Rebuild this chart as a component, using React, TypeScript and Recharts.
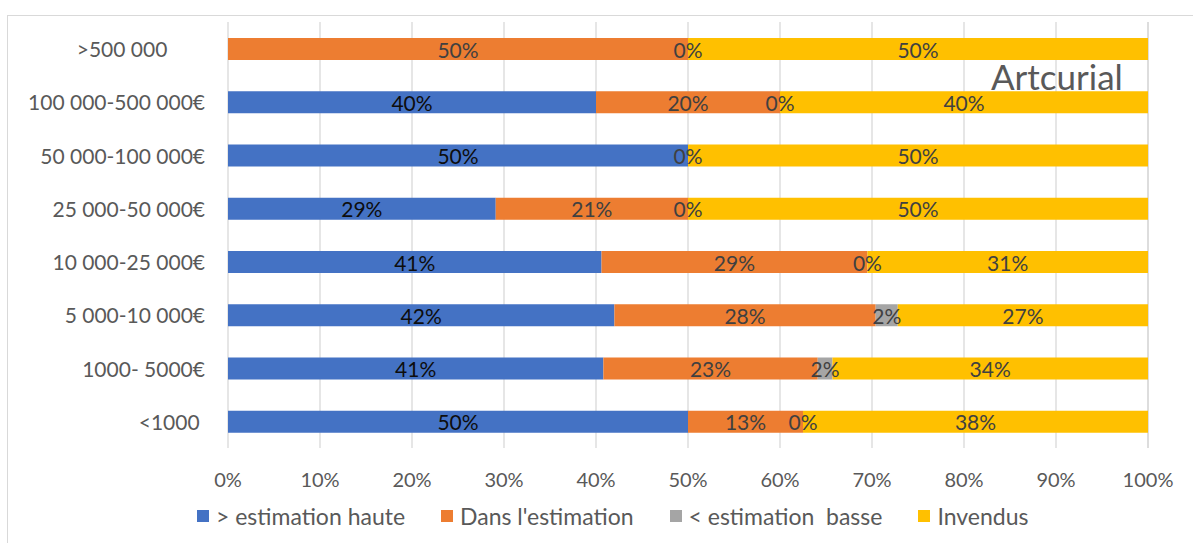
import React from "react";
import { BarChart, Bar, XAxis, YAxis, CartesianGrid, Legend, LabelList } from "recharts";

// Categories (top to bottom), as shown on the vertical axis
const categories = [
  ">500 000       ",
  "100 000-500 000€",
  "50 000-100 000€",
  "25 000-50 000€",
  "10 000-25 000€",
  "5 000-10 000€",
  "1000- 5000€",
  "<1000 ",
];

// Series values (percent of lots)
const aboveHigh: (number | null)[] = [null, 40, 50, 29.1, 40.6, 42.0, 40.8, 50];
const withinEstimate: (number | null)[] = [50, 20, null, 20.9, 28.9, 28.4, 23.3, 12.5];
const belowLow: (number | null)[] = [0, 0, 0, 0, 0, 2.4, 1.6, 0];
const unsold: (number | null)[] = [50, 40, 50, 50, 30.5, 27.2, 34.3, 37.5];

const seriesNames = ["> estimation haute", "Dans l'estimation", "< estimation  basse", "Invendus"];
const xTicks = [0, 10, 20, 30, 40, 50, 60, 70, 80, 90, 100];
const chartTitle = "Artcurial";

const data = categories.map((c, i) => ({
  category: c,
  aboveHigh: aboveHigh[i],
  withinEstimate: withinEstimate[i],
  belowLow: belowLow[i],
  unsold: unsold[i],
}));

const COLORS = ["#4472C4", "#ED7D31", "#A5A5A5", "#FFC000"];
const FONT = "Lato, 'Liberation Sans', sans-serif";
const AXIS_COLOR = "#595959";
const LABEL_SIZE = 21;

const fmt = (v: number) => Math.round(v) + "%";

const labelText = (key: string, x: number, y: number, value: number, fill: string) => (
  <text
    key={key}
    x={x}
    y={y}
    textAnchor="middle"
    dominantBaseline="central"
    fill={fill}
    fontSize={LABEL_SIZE}
    fontFamily={FONT}
  >
    {fmt(value)}
  </text>
);

const makeLabel = (fill: string) => (props: any) => {
  const { x, y, width, height, value } = props;
  if (value === null || value === undefined || Number(value) === 0) return null;
  return labelText("l", Number(x) + Number(width) / 2, Number(y) + Number(height) / 2, Number(value), fill);
};

// The last series also draws the labels of zero-width "< estimation basse" segments,
// which sit exactly on its left edge.
const unsoldLabel = (props: any) => {
  const { x, y, width, height, value, index } = props;
  const cy = Number(y) + Number(height) / 2;
  const parts: any[] = [];
  const low = belowLow[index];
  if (low === 0) parts.push(labelText("z", Number(x), cy, 0, "#404040"));
  if (value !== null && value !== undefined) {
    parts.push(labelText("v", Number(x) + Number(width) / 2, cy, Number(value), "#404040"));
  }
  return <g>{parts}</g>;
};

const YTick = (props: any) => {
  const { x, y, payload } = props;
  return (
    <text
      x={x}
      y={y}
      textAnchor="end"
      dominantBaseline="central"
      fill={AXIS_COLOR}
      fontSize={21}
      fontFamily={FONT}
      style={{ whiteSpace: "pre" }}
      xmlSpace="preserve"
    >
      {payload.value}
    </text>
  );
};

const LegendContent = () => (
  <div
    style={{
      height: 54,
      display: "flex",
      alignItems: "center",
      paddingLeft: 197,
      fontFamily: FONT,
      fontSize: 23,
      color: AXIS_COLOR,
    }}
  >
    {seriesNames.map((n, i) => (
      <div key={n} style={{ display: "flex", alignItems: "center", marginRight: 36 }}>
        <span style={{ width: 12, height: 12, background: COLORS[i], display: "inline-block", marginRight: 7 }} />
        <span style={{ whiteSpace: "pre" }}>{n}</span>
      </div>
    ))}
  </div>
);

export default function App() {
  return (
    <div style={{ position: "absolute", left: 0, top: 0, width: 1193, height: 543, background: "#fff", overflow: "hidden" }}>
      <div
        style={{
          position: "absolute",
          left: 7,
          top: 15,
          width: 1200,
          height: 540,
          border: "1px solid #D9D9D9",
          boxSizing: "border-box",
        }}
      />
      <BarChart
        width={1193}
        height={543}
        data={data}
        layout="vertical"
        margin={{ top: 22, right: 45, left: 0, bottom: 0 }}
        style={{ position: "absolute", left: 0, top: 0 }}
      >
        <CartesianGrid horizontal={false} vertical={true} stroke="#D9D9D9" strokeWidth={1.3} />
        <XAxis
          type="number"
          domain={[0, 100]}
          ticks={xTicks}
          tickFormatter={(v: number) => v + "%"}
          axisLine={false}
          tickLine={false}
          tickSize={0}
          tickMargin={25}
          height={41}
          interval={0}
          tick={{ fill: AXIS_COLOR, fontSize: 20, fontFamily: FONT }}
        />
        <YAxis
          type="category"
          dataKey="category"
          width={228}
          axisLine={false}
          tickLine={false}
          tickSize={0}
          tickMargin={23}
          interval={0}
          tick={<YTick />}
        />
        <Legend verticalAlign="bottom" content={<LegendContent />} />
        <Bar dataKey="aboveHigh" name={seriesNames[0]} stackId="s" fill={COLORS[0]} barSize={22} isAnimationActive={false}>
          <LabelList dataKey="aboveHigh" content={makeLabel("#0d0d0d")} />
        </Bar>
        <Bar dataKey="withinEstimate" name={seriesNames[1]} stackId="s" fill={COLORS[1]} barSize={22} isAnimationActive={false}>
          <LabelList dataKey="withinEstimate" content={makeLabel("#404040")} />
        </Bar>
        <Bar dataKey="belowLow" name={seriesNames[2]} stackId="s" fill={COLORS[2]} barSize={22} isAnimationActive={false}>
          <LabelList dataKey="belowLow" content={makeLabel("#404040")} />
        </Bar>
        <Bar dataKey="unsold" name={seriesNames[3]} stackId="s" fill={COLORS[3]} barSize={22} isAnimationActive={false}>
          <LabelList dataKey="unsold" content={unsoldLabel} />
        </Bar>
      </BarChart>
      <div
        style={{
          position: "absolute",
          left: 991,
          top: 55,
          fontFamily: FONT,
          fontSize: 35,
          lineHeight: "42px",
          color: AXIS_COLOR,
          whiteSpace: "nowrap",
        }}
      >
        {chartTitle}
      </div>
    </div>
  );
}
